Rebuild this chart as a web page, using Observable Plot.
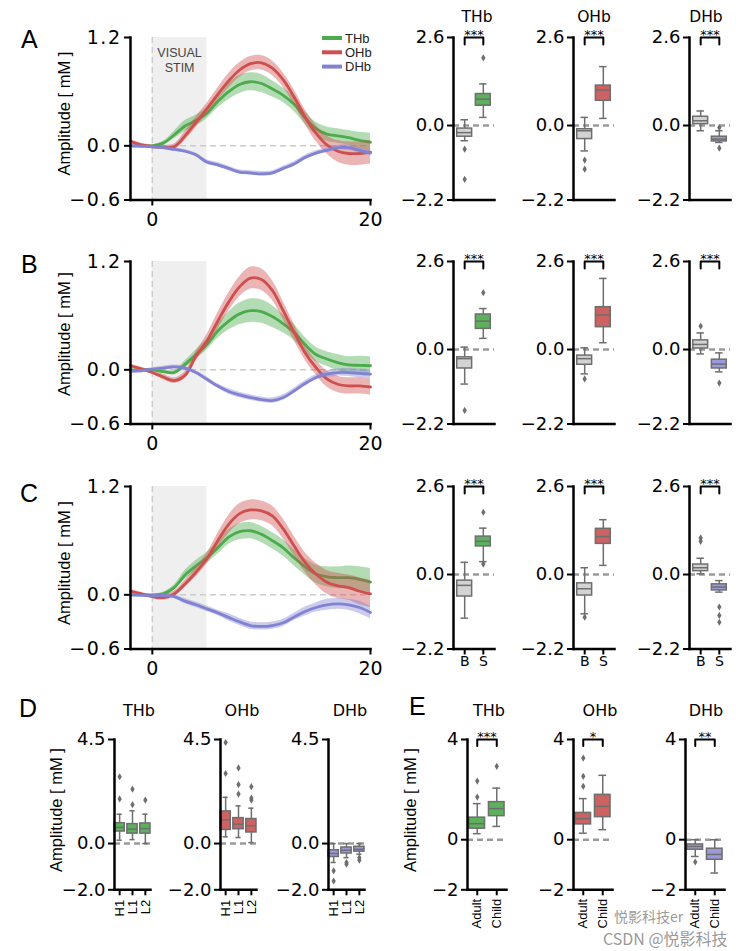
<!DOCTYPE html>
<html><head><meta charset="utf-8">
<script src="https://cdn.jsdelivr.net/npm/d3@7"></script>
<script src="https://cdn.jsdelivr.net/npm/@observablehq/plot@0.6"></script>
<style>
body{margin:0;background:#fff;}
#fig{position:relative;width:755px;height:951px;background:#fff;overflow:hidden;}
#fig svg{position:absolute;}
</style></head><body><div id="fig"></div>
<script>
// ---------------- data ----------------
const time = [-2,-1,0,1,2,3,4,5,6,7,8,9,10,11,12,13,14,15,16,17,18,19,20];
const stimulus = [0, 5];
const stimLabel = "VISUAL\nSTIM";
const lineXDomain = [-2, 20];
const lineXTicks = [0, 20];
const lineYDomain = [-0.6, 1.2];
const lineYTicks = [1.2, 0.0, -0.6];
const hbNames = ["THb", "OHb", "DHb"];

// Panel A time courses (mean, half-width of band)
const A_THb_mean = [0,0,0,0.03,0.12,0.22,0.28,0.36,0.49,0.60,0.68,0.71,0.69,0.63,0.56,0.46,0.31,0.19,0.13,0.11,0.09,0.06,0.04];
const A_THb_err  = [0.01,0.01,0.01,0.02,0.04,0.06,0.06,0.06,0.07,0.09,0.10,0.10,0.10,0.09,0.08,0.08,0.07,0.07,0.08,0.08,0.08,0.09,0.10];
const A_OHb_mean = [0.05,0.01,-0.01,-0.015,-0.01,0.11,0.26,0.41,0.57,0.72,0.84,0.91,0.92,0.86,0.73,0.54,0.32,0.14,0.01,-0.06,-0.085,-0.085,-0.07];
const A_OHb_err  = [0.02,0.02,0.02,0.02,0.03,0.05,0.06,0.06,0.07,0.08,0.08,0.08,0.08,0.08,0.08,0.08,0.08,0.09,0.10,0.12,0.13,0.13,0.13];
const A_DHb_mean = [0,-0.005,-0.01,-0.02,-0.04,-0.06,-0.10,-0.18,-0.21,-0.25,-0.29,-0.30,-0.31,-0.30,-0.25,-0.20,-0.13,-0.08,-0.05,-0.02,-0.02,-0.05,-0.08];
const A_DHb_err  = [0.015,0.015,0.015,0.02,0.02,0.02,0.02,0.025,0.025,0.025,0.025,0.025,0.025,0.025,0.025,0.025,0.025,0.025,0.025,0.025,0.03,0.03,0.03];

// Panel B time courses
const B_THb_mean = [0,0,0,-0.02,-0.03,0.06,0.17,0.28,0.43,0.54,0.62,0.655,0.645,0.59,0.51,0.415,0.28,0.17,0.12,0.08,0.055,0.05,0.045];
const B_THb_err  = [0.01,0.01,0.01,0.02,0.02,0.04,0.05,0.06,0.08,0.10,0.12,0.13,0.13,0.12,0.10,0.09,0.08,0.08,0.08,0.09,0.09,0.10,0.10];
const B_OHb_mean = [0.045,0.01,-0.03,-0.08,-0.12,-0.06,0.15,0.32,0.54,0.75,0.92,1.015,1.0,0.88,0.655,0.415,0.19,0.026,-0.10,-0.16,-0.178,-0.178,-0.19];
const B_OHb_err  = [0.02,0.02,0.02,0.03,0.03,0.04,0.05,0.07,0.09,0.10,0.11,0.12,0.12,0.11,0.10,0.09,0.08,0.08,0.09,0.09,0.09,0.09,0.09];
const B_DHb_mean = [-0.018,-0.01,0.007,0.02,0.033,0.018,-0.03,-0.104,-0.18,-0.24,-0.278,-0.307,-0.33,-0.34,-0.307,-0.233,-0.152,-0.085,-0.048,-0.03,-0.03,-0.04,-0.048];
const B_DHb_err  = [0.015,0.015,0.015,0.02,0.02,0.02,0.02,0.025,0.025,0.03,0.03,0.03,0.03,0.03,0.03,0.03,0.03,0.03,0.035,0.04,0.045,0.05,0.05];

// Panel C time courses
const C_THb_mean = [0,0,0,0.01,0.08,0.22,0.32,0.41,0.52,0.64,0.70,0.71,0.67,0.60,0.52,0.41,0.31,0.23,0.20,0.19,0.19,0.17,0.14];
const C_THb_err  = [0.01,0.01,0.01,0.02,0.03,0.05,0.06,0.06,0.07,0.08,0.09,0.09,0.09,0.09,0.09,0.09,0.09,0.10,0.11,0.12,0.13,0.14,0.15];
const C_OHb_mean = [0.04,0.01,-0.02,-0.03,0.01,0.12,0.25,0.40,0.60,0.78,0.90,0.94,0.93,0.875,0.73,0.54,0.36,0.23,0.14,0.10,0.08,0.04,0.01];
const C_OHb_err  = [0.02,0.02,0.02,0.03,0.03,0.04,0.05,0.06,0.08,0.10,0.11,0.11,0.11,0.11,0.11,0.11,0.11,0.12,0.13,0.14,0.14,0.15,0.15];
const C_DHb_mean = [0,-0.005,-0.01,-0.005,-0.02,-0.07,-0.11,-0.155,-0.20,-0.25,-0.30,-0.34,-0.35,-0.34,-0.31,-0.245,-0.185,-0.14,-0.11,-0.10,-0.11,-0.14,-0.195];
const C_DHb_err  = [0.01,0.01,0.01,0.02,0.02,0.03,0.03,0.03,0.03,0.04,0.04,0.04,0.04,0.04,0.04,0.04,0.05,0.05,0.06,0.06,0.06,0.07,0.07];

// Box statistics: [lower whisker, q1, median, q3, upper whisker] per group
const groupsBS = ["B", "S"];
const boxYDomain = [-2.2, 2.6];
const boxYTicks = [2.6, 0.0, -2.2];
const A_THb_box = [[-0.45,-0.33,-0.21,-0.09,0.17],[0.24,0.585,0.78,0.93,1.23]];
const A_THb_out = [[-0.70,-1.59],[2.0]];
const A_OHb_box = [[-0.75,-0.40,-0.155,-0.11,0.24],[0.21,0.73,1.05,1.18,1.74]];
const A_OHb_out = [[-1.02,-1.29],[]];
const A_DHb_box = [[-0.155,0.04,0.14,0.26,0.43],[-0.50,-0.47,-0.40,-0.33,-0.155]];
const A_DHb_out = [[],[-0.06,-0.67]];
const B_THb_box = [[-1.02,-0.56,-0.27,-0.23,0.07],[0.33,0.61,0.84,1.035,1.21]];
const B_THb_out = [[-1.80],[1.68]];
const B_OHb_box = [[-0.72,-0.45,-0.27,-0.18,0.05],[0.20,0.66,1.02,1.25,2.10]];
const B_OHb_out = [[-0.87],[]];
const B_DHb_box = [[-0.13,0.03,0.15,0.27,0.49],[-0.66,-0.56,-0.43,-0.30,-0.10]];
const B_DHb_out = [[0.69],[-0.99]];
const C_THb_box = [[-1.29,-0.65,-0.32,-0.18,0.36],[0.38,0.83,0.98,1.12,1.37]];
const C_THb_out = [[],[1.84,0.31]];
const C_OHb_box = [[-1.16,-0.62,-0.42,-0.26,0.20],[0.27,0.905,1.12,1.35,1.62]];
const C_OHb_out = [[-1.26],[]];
const C_DHb_box = [[0.02,0.10,0.20,0.295,0.48],[-0.52,-0.47,-0.37,-0.29,-0.18]];
const C_DHb_out = [[1.08,0.98],[-0.96,-1.21,-1.41]];
const sigA = ["***","***","***"];
const sigB = ["***","***","***"];
const sigC = ["***","***","***"];

const groupsD = ["H1", "L1", "L2"];
const dYDomain = [-2.0, 4.5];
const dYTicks = [4.5, 0.0, -2.0];
const D_THb_box = [[0.145,0.52,0.70,0.88,1.27],[0.17,0.43,0.62,0.84,1.42],[0.0,0.43,0.65,0.87,1.27]];
const D_THb_out = [[2.89,1.93],[2.35,1.68],[1.88]];
const D_OHb_box = [[0.29,0.59,1.03,1.39,2.0],[0.26,0.62,0.84,1.10,1.63],[0.04,0.48,0.77,1.06,1.53]];
const D_OHb_out = [[4.37,3.03],[3.27,2.55,2.14],[2.46,1.97,1.88]];
const D_DHb_box = [[-0.82,-0.58,-0.43,-0.29,0.0],[-0.61,-0.43,-0.29,-0.17,0.0],[-0.46,-0.35,-0.25,-0.14,0.0]];
const D_DHb_out = [[-1.18,-1.62],[-0.82,-0.89],[-0.61,-0.72]];

const groupsE = ["Adult", "Child"];
const eYDomain = [-2, 4];
const eYTicks = [4, 0, -2];
const E_THb_box = [[0.24,0.44,0.64,0.88,1.44],[0.53,0.94,1.24,1.50,2.06]];
const E_THb_out = [[2.34,1.70],[2.93]];
const E_OHb_box = [[0.26,0.61,0.84,1.07,1.64],[0.40,0.90,1.33,1.79,2.57]];
const E_OHb_out = [[3.26,2.53,2.13],[]];
const E_DHb_box = [[-0.67,-0.40,-0.27,-0.19,0.0],[-1.33,-0.80,-0.59,-0.36,0.0]];
const E_DHb_out = [[-0.89],[]];
const sigE = ["***","*","**"];

// ---------------- styles ----------------
const lineColor = {THb: "#4cab4c", OHb: "#cf4f4f", DHb: "#8282d2"};
const boxColor = {THb: "#5cb25c", OHb: "#cc6262", DHb: "#9b9bdc"};
const baseColor = "#d3d3d3";
const edge = "#6e6e6e";
const thinDiamond = {draw(ctx, size) {const r = Math.sqrt(size / Math.PI); ctx.moveTo(0, -r); ctx.lineTo(r * 0.6, 0); ctx.lineTo(0, r); ctx.lineTo(-r * 0.6, 0); ctx.closePath();}};

const fig = document.getElementById("fig");

function place(opts, fx, fy, fw, fh, m) {
  const svg = Plot.plot({
    ...opts,
    width: fw + m.l + m.r, height: fh + m.t + m.b,
    marginLeft: m.l, marginRight: m.r, marginTop: m.t, marginBottom: m.b,
    style: {fontFamily: "DejaVu Sans, sans-serif", fontSize: "18px", background: "transparent", color: "black", overflow: "visible"}
  });
  svg.style.position = "absolute";
  svg.style.left = (fx - m.l) + "px";
  svg.style.top = (fy - m.t) + "px";
  svg.style.maxWidth = "none";
  fig.appendChild(svg);
  return svg;
}

function lineChart(fy, series, withStim) {
  const marks = [
    Plot.rect([stimulus], {x1: d => d[0], x2: d => d[1], fill: "#efefef"}),
    Plot.ruleX([0], {stroke: "#cccccc", strokeWidth: 1.5, strokeDasharray: "6,4"}),
    Plot.ruleY([0], {stroke: "#cccccc", strokeWidth: 1.5, strokeDasharray: "6,4"})
  ];
  series.forEach(([name, mean, err]) => {
    const rows = time.map((t, i) => ({t, m: mean[i], lo: mean[i] - err[i], hi: mean[i] + err[i]}));
    marks.push(Plot.areaY(rows, {x: "t", y1: "lo", y2: "hi", fill: lineColor[name], fillOpacity: 0.42, curve: "catmull-rom"}));
    marks.push(Plot.line(rows, {x: "t", y: "m", stroke: lineColor[name], strokeWidth: 2.8, curve: "catmull-rom"}));
  });
  if (withStim) marks.push(Plot.text([stimulus], {x: d => (d[0] + d[1]) / 2, frameAnchor: "top", lineAnchor: "top", dy: 9, text: () => stimLabel, fontFamily: "Liberation Sans", fontSize: 12.5, fill: "#444", lineHeight: 1.2}));
  marks.push(
    Plot.frame({anchor: "left", strokeWidth: 2.5}),
    Plot.frame({anchor: "bottom", strokeWidth: 2.5}),
    Plot.axisY({ticks: lineYTicks, tickFormat: ".1f", tickSize: 6, tickPadding: 3, strokeWidth: 2, label: null, fontSize: 19}),
    Plot.axisX({ticks: lineXTicks, tickSize: 6, tickPadding: 6, strokeWidth: 2, label: null, fontSize: 19})
  );
  const svg = place({x: {domain: lineXDomain, label: null}, y: {domain: lineYDomain, label: null}, marks}, 130, fy, 240, 162.5, {l: 80, r: 18, t: 6, b: 36});
  svg.querySelectorAll('[aria-label="y-axis tick label"] text').forEach(t => t.style.letterSpacing = "1.5px");
}

function boxPanel(o) {
  const {cats, boxes, outs, colors, fx, fy, fw, fh, yDomain, yTicks, fmt, xAxis, sig, pi, po, m} = o;
  const n = cats.length;
  const step = fw / (n - pi + 2 * po);
  const bw = step * (1 - pi);
  const rows = cats.map((c, i) => ({c, lo: boxes[i][0], q1: boxes[i][1], med: boxes[i][2], q3: boxes[i][3], hi: boxes[i][4]}));
  const outRows = cats.flatMap((c, i) => outs[i].map(v => ({c, v})));
  const marks = [Plot.ruleY([0], {stroke: "#9a9a9a", strokeWidth: 2.5, strokeDasharray: "6,4"})];
  marks.push(Plot.ruleX(rows, {x: "c", y1: "lo", y2: "q1", stroke: edge, strokeWidth: 1.5}));
  marks.push(Plot.ruleX(rows, {x: "c", y1: "q3", y2: "hi", stroke: edge, strokeWidth: 1.5}));
  marks.push(Plot.tickY(rows, {x: "c", y: "lo", stroke: edge, strokeWidth: 1.5, insetLeft: bw / 4, insetRight: bw / 4}));
  marks.push(Plot.tickY(rows, {x: "c", y: "hi", stroke: edge, strokeWidth: 1.5, insetLeft: bw / 4, insetRight: bw / 4}));
  rows.forEach((r, i) => marks.push(Plot.barY([r], {x: "c", y1: "q1", y2: "q3", fill: colors[i], stroke: edge, strokeWidth: 1.5})));
  marks.push(Plot.tickY(rows, {x: "c", y: "med", stroke: edge, strokeWidth: 1.5}));
  marks.push(Plot.dot(outRows, {x: "c", y: "v", symbol: thinDiamond, r: 3.6, fill: edge, stroke: null}));
  if (sig) {
    const top = yDomain[1];
    const leg = top - (yDomain[1] - yDomain[0]) * 0.043;
    marks.push(Plot.line([{c: cats[0], y: leg}, {c: cats[0], y: top}, {c: cats[1], y: top}, {c: cats[1], y: leg}], {x: "c", y: "y", stroke: "black", strokeWidth: 2}));
    marks.push(Plot.text([sig], {x: () => cats[0], y: () => top, dx: step / 2, dy: -3, text: d => d, fontSize: 13, fontFamily: "DejaVu Sans"}));
  }
  marks.push(
    Plot.frame({anchor: "left", strokeWidth: 2.5}),
    Plot.frame({anchor: "bottom", strokeWidth: 2.5}),
    Plot.axisY({ticks: yTicks, tickFormat: fmt, tickSize: 6, tickPadding: 3, strokeWidth: 2, label: null})
  );
  if (xAxis) marks.push(Plot.axisX({tickSize: 6, strokeWidth: 2, label: null, ...xAxis}));
  place({
    x: {type: "band", domain: cats, paddingInner: pi, paddingOuter: po, round: false, label: null, ...(xAxis ? {} : {axis: null})},
    y: {domain: yDomain, label: null},
    marks
  }, fx, fy, fw, fh, m);
}

// ---------------- rows A-C ----------------
const rowTops = [37, 260.7, 485.7];
const boxFx = [453, 572.5, 689];
lineChart(rowTops[0], [["THb", A_THb_mean, A_THb_err], ["OHb", A_OHb_mean, A_OHb_err], ["DHb", A_DHb_mean, A_DHb_err]], true);
lineChart(rowTops[1], [["THb", B_THb_mean, B_THb_err], ["OHb", B_OHb_mean, B_OHb_err], ["DHb", B_DHb_mean, B_DHb_err]], false);
lineChart(rowTops[2], [["THb", C_THb_mean, C_THb_err], ["OHb", C_OHb_mean, C_OHb_err], ["DHb", C_DHb_mean, C_DHb_err]], false);

const rowDefs = [
  {fy: rowTops[0], sig: sigA, boxes: [A_THb_box, A_OHb_box, A_DHb_box], outs: [A_THb_out, A_OHb_out, A_DHb_out], xAxis: null},
  {fy: rowTops[1], sig: sigB, boxes: [B_THb_box, B_OHb_box, B_DHb_box], outs: [B_THb_out, B_OHb_out, B_DHb_out], xAxis: null},
  {fy: rowTops[2], sig: sigC, boxes: [C_THb_box, C_OHb_box, C_DHb_box], outs: [C_THb_out, C_OHb_out, C_DHb_out], xAxis: {tickPadding: 1, fontSize: 14}}
];
rowDefs.forEach(r => hbNames.forEach((hb, j) => boxPanel({
  cats: groupsBS, boxes: r.boxes[j], outs: r.outs[j], colors: [baseColor, boxColor[hb]],
  fx: boxFx[j], fy: r.fy, fw: 41, fh: 162.5, yDomain: boxYDomain, yTicks: boxYTicks, fmt: ".1f",
  xAxis: r.xAxis, sig: r.sig[j], pi: 0.2, po: 0.2, m: {l: 64, r: 6, t: 30, b: 28}
})));

// ---------------- row D ----------------
const dFx = [114.3, 220, 328.3];
[[D_THb_box, D_THb_out], [D_OHb_box, D_OHb_out], [D_DHb_box, D_DHb_out]].forEach(([bx, ou], j) => boxPanel({
  cats: groupsD, boxes: bx, outs: ou, colors: groupsD.map(() => boxColor[hbNames[j]]),
  fx: dFx[j], fy: 739, fw: 36, fh: 150.3, yDomain: dYDomain, yTicks: dYTicks, fmt: ".1f",
  xAxis: {tickRotate: -90, tickPadding: 4, fontSize: 13, fontFamily: "Liberation Sans"}, sig: null, pi: 0.2, po: 0,
  m: {l: 58, r: 6, t: 10, b: 40}
}));

// ---------------- row E ----------------
const eFx = [467.3, 572.7, 685];
[[E_THb_box, E_THb_out], [E_OHb_box, E_OHb_out], [E_DHb_box, E_DHb_out]].forEach(([bx, ou], j) => boxPanel({
  cats: groupsE, boxes: bx, outs: ou, colors: groupsE.map(() => boxColor[hbNames[j]]),
  fx: eFx[j], fy: 739, fw: 39, fh: 150.3, yDomain: eYDomain, yTicks: eYTicks, fmt: "d",
  xAxis: {tickRotate: -90, tickPadding: 3, fontSize: 13, fontFamily: "Liberation Sans"}, sig: sigE[j], pi: 0.2, po: 0.1,
  m: {l: 42, r: 6, t: 30, b: 50}
}));

// ---------------- annotations ----------------
const ov = d3.select(fig).insert("svg", ":first-child").attr("width", 755).attr("height", 951).style("left", "0px").style("top", "0px");
const letters = [["A", 21, 48], ["B", 21, 273], ["C", 20, 502], ["D", 19, 717], ["E", 409, 715]];
ov.selectAll("text.letter").data(letters).join("text").attr("class", "letter")
  .attr("x", d => d[1]).attr("y", d => d[2]).text(d => d[0])
  .style("font-family", "Liberation Sans").style("font-size", "25px");
const ylabels = [[64, 113.5], [64, 334], [64, 563], [56, 810], [410, 810]];
ov.selectAll("text.ylab").data(ylabels).join("text").attr("class", "ylab")
  .attr("transform", d => `translate(${d[0]},${d[1]}) rotate(-90)`)
  .attr("text-anchor", "middle").attr("dominant-baseline", "central")
  .style("font-family", "Liberation Sans").style("font-size", "16.5px").text("Amplitude [ mM ]");
const titles = [["THb", 477, 17, 15.5], ["OHb", 594, 17, 15.5], ["DHb", 706, 17, 15.5],
  ["THb", 139, 710, 16], ["OHb", 242, 710, 16], ["DHb", 350, 710, 16],
  ["THb", 489, 710, 16], ["OHb", 600, 710, 16], ["DHb", 706, 710, 16]];
ov.selectAll("text.title").data(titles).join("text").attr("class", "title")
  .attr("x", d => d[1]).attr("y", d => d[2]).attr("text-anchor", "middle").attr("dominant-baseline", "central")
  .style("font-family", "DejaVu Sans").style("font-size", d => d[3] + "px").text(d => d[0]);
const legendRows = hbNames.map((n, i) => [n, 38 + i * 14.3]);
ov.selectAll("rect.leg").data(legendRows).join("rect").attr("class", "leg")
  .attr("x", 322).attr("y", d => d[1] - 2).attr("width", 20).attr("height", 4).attr("fill", d => lineColor[d[0]]);
ov.selectAll("text.leg").data(legendRows).join("text").attr("class", "leg")
  .attr("x", 345).attr("y", d => d[1]).attr("dominant-baseline", "central")
  .style("font-family", "Liberation Sans").style("font-size", "13px").attr("fill", "#222").text(d => d[0]);
ov.append("text").attr("x", 614).attr("y", 922).style("font-family", "Noto Sans CJK SC").style("font-size", "14px").attr("fill", "#9a9a9a").text("悦影科技er");
ov.append("text").attr("x", 603).attr("y", 945).style("font-family", "Noto Sans CJK SC").style("font-size", "16px").attr("fill", "#9a9a9a").text("CSDN @悦影科技");
</script></body></html>
